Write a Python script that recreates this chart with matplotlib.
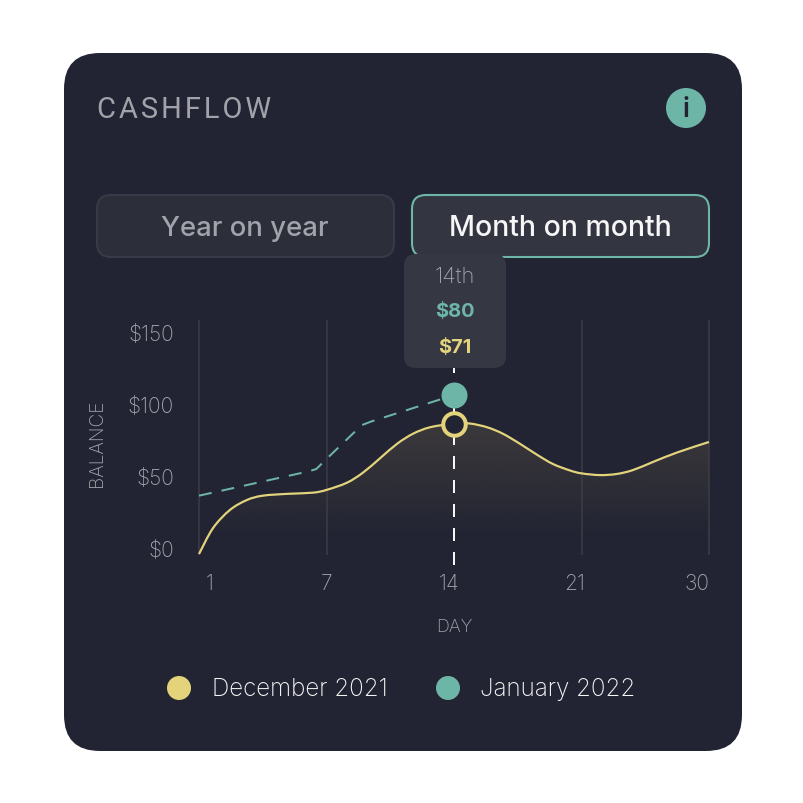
import matplotlib
matplotlib.use("Agg")
import matplotlib.pyplot as plt
import numpy as np
from matplotlib.patches import Circle, FancyBboxPatch, PathPatch
from matplotlib.path import Path
from matplotlib.transforms import ScaledTranslation

plt.rcParams["font.family"] = ["Inter", "DejaVu Sans"]

# x is the slot on the chart: the five day ticks are evenly spaced
day_labels = ["1", "7", "14", "21", "30"]
day_slots = [0, 1, 2, 3, 4]
balance_ticks = [0, 50, 100, 150]
balance_labels = ["$0", "$50", "$100", "$150"]

dec_slots = [0, 0.11, 0.243, 0.376, 0.5, 0.7, 0.894, 1.0, 1.16,
             1.286, 1.42, 1.553, 1.678, 1.812, 2.0, 2.125, 2.26, 2.384,
             2.518, 2.65, 2.776, 2.91, 3.0, 3.145, 3.278, 3.404, 3.56, 3.75, 4.0]
dec_values = [0, 18, 30.6, 37.5, 40.5, 41.8, 42.6, 44.5, 49.5,
              56.5, 66.5, 76.5, 83.5, 88, 90.6, 90.6, 88, 83.5,
              76.5, 69, 62.5, 58, 56, 54.8, 55.6, 58.3, 63.9, 70.5, 77.8]
jan_slots = [0, 0.86, 0.92, 1.0, 1.22, 1.28, 1.35, 2.0]
jan_values = [40.5, 57.4, 59, 66, 84.7, 89.6, 92, 110.4]

hover_slot = 2.0
hover_dec = 90.6
hover_jan = 110.4
tooltip_rows = ["14th", "$80", "$71"]
legend_names = ["December 2021", "January 2022"]

BG = "#222433"
TEAL = "#6db5a7"
YELLOW = "#e3d47c"
GREY = "#a2a3aa"
WHITE = "#f6f6f6"
GRID = "#353641"

W = 804
PX = 72 / 100  # points per pixel at dpi 100

fig = plt.figure(figsize=(8.04, 8.04), dpi=100, facecolor="white")


def box(ax, x0, y0, x1, y1, r, face, edge=None, lw=0):
    ax.add_patch(FancyBboxPatch((x0 + r, y0 + r), x1 - x0 - 2 * r, y1 - y0 - 2 * r,
                                boxstyle="round,pad=%d,rounding_size=%d" % (r, r),
                                fc=face, ec=edge or face, lw=lw))


def smooth(xs, ys):
    # catmull-rom through the read points, as bezier segments
    pts = np.column_stack([xs, ys])
    ext = np.vstack([pts[0], pts, pts[-1]])
    verts = [pts[0]]
    for i in range(1, len(ext) - 2):
        verts.append(ext[i] + (ext[i + 1] - ext[i - 1]) / 6)
        verts.append(ext[i + 1] - (ext[i + 2] - ext[i]) / 6)
        verts.append(ext[i + 1])
    codes = [Path.MOVETO] + [Path.CURVE4] * (len(verts) - 1)
    return verts, codes


# card, buttons, tooltip, legend all sit on a full-figure pixel canvas
card = fig.add_axes([0, 0, 1, 1], zorder=0)
card.set_xlim(0, W)
card.set_ylim(W - 1, -1)
card.axis("off")

box(card, 64, 53, 742, 751, 36, BG)
card.text(97, 109, "\u200a".join("CASHFLOW"), color=GREY, fontsize=29 * PX,
          family=["Roboto", "DejaVu Sans"], ha="left", va="center")
card.add_patch(Circle((686, 108), 20, fc=TEAL, ec="none"))
card.text(686, 109, "i", color=BG, fontsize=26 * PX, fontweight="semibold", ha="center", va="center")

box(card, 97, 195, 394, 257, 14, "#2c2e3a", "#383a47", 1.5)
box(card, 412, 195, 709, 257, 14, "#333541", TEAL, 1.5)
card.text(245, 228, "Year on year", color=GREY, fontsize=27.5 * PX, fontweight="medium",
          ha="center", va="center")
card.text(560, 228, "Month on month", color=WHITE, fontsize=28.5 * PX, fontweight="medium",
          ha="center", va="center")

box(card, 404, 254, 506, 368, 12, "#353743")
card.text(455, 276, tooltip_rows[0], color=GREY, fontsize=22 * PX, fontweight="light",
          ha="center", va="center")
card.text(455, 311, tooltip_rows[1], color=TEAL, fontsize=20 * PX, fontweight="bold",
          ha="center", va="center")
card.text(455, 347, tooltip_rows[2], color=YELLOW, fontsize=20 * PX, fontweight="bold",
          ha="center", va="center")

for cx, tx, name, col in zip([179, 448], [212, 480], legend_names, [YELLOW, TEAL]):
    card.add_patch(Circle((cx, 688), 12, fc=col, ec="none"))
    card.text(tx, 689, name, color=WHITE, fontsize=24.2 * PX, fontweight="light",
              ha="left", va="center")

# chart: y scale is 72 px per $50, zero on the axes bottom
left, right, top, bottom = 199, 709, 322, 555
ax = fig.add_axes([left / W, 1 - bottom / W, (right - left) / W, (bottom - top) / W], zorder=1)
ax.patch.set_alpha(0)
ymax = (bottom - top) / 1.44
for s in ax.spines.values():
    s.set_visible(False)

for slot in day_slots:
    if slot != hover_slot:
        ax.plot([slot, slot], [0, ymax], color=GRID, lw=1.5, zorder=1, clip_on=False)

# area under the december line fades out downward
grad = np.zeros((256, 2, 4))
grad[..., :3] = matplotlib.colors.to_rgb("#48433f")
grad[..., 3] = np.linspace(0, 0.72, 256)[:, None]
im = ax.imshow(grad, extent=[0, 4, 12, 95], origin="lower", aspect="auto", zorder=2)
im2 = ax.imshow(grad[:1], extent=[0, 4, 0, 12], origin="lower", aspect="auto", zorder=2)
dec_verts, dec_codes = smooth(dec_slots, dec_values)
area = Path(dec_verts + [(4, 0), (0, 0), (0, 0)],
            dec_codes + [Path.LINETO, Path.LINETO, Path.CLOSEPOLY])
clip = PathPatch(area, transform=ax.transData, fc="none", ec="none")
ax.add_patch(clip)
im.set_clip_path(clip)
im2.set_clip_path(clip)

ax.plot(jan_slots, jan_values, color=TEAL, lw=2 * PX, dashes=(6.5, 5), zorder=3,
        dash_joinstyle="round", clip_on=False)
ax.add_patch(PathPatch(Path(dec_verts, dec_codes), fc="none", ec=YELLOW, lw=2.2 * PX, zorder=4,
                       clip_on=False))

# hover line runs from under the tooltip to just below the axis
ax.plot([hover_slot, hover_slot], [-7.5, 129], color=WHITE, lw=2 * PX, dashes=(6.5, 5.5),
        zorder=5, clip_on=False)
ax.plot([hover_slot], [hover_jan], "o", ms=26 * PX, mfc=TEAL, mec=TEAL, mew=0, zorder=6)
ax.plot([hover_slot], [hover_dec], "o", ms=22.5 * PX, mfc=BG, mec=YELLOW, mew=4 * PX, zorder=6)

ax.set_xlim(0, 4)
ax.set_ylim(0, ymax)
ax.set_xticks(day_slots, day_labels)
ax.set_yticks(balance_ticks, balance_labels)
ax.tick_params(axis="both", length=0, labelcolor=GREY)
ax.tick_params(axis="x", pad=19 * PX, labelsize=21 * PX)
ax.tick_params(axis="y", pad=25 * PX, labelsize=21 * PX)

# tick labels sit off their ticks in the reference
x_shift = [11, 0, -5, -6.5, -12]
for lab, dx in zip(ax.get_xticklabels(), x_shift):
    lab.set_fontweight("light")
    lab.set_transform(lab.get_transform() + ScaledTranslation(dx / 100, 0, fig.dpi_scale_trans))
for lab in ax.get_yticklabels():
    lab.set_fontweight("light")
    lab.set_transform(lab.get_transform() + ScaledTranslation(0, 6 / 100, fig.dpi_scale_trans))

ax.set_xlabel("DAY", color=GREY, fontsize=18 * PX, fontweight="light")
ax.xaxis.set_label_coords(0.5, -(627 - bottom) / (bottom - top), transform=ax.transAxes)
ax.xaxis.label.set_va("center")
ax.set_ylabel("BALANCE", color=GREY, fontsize=19 * PX, fontweight="light")
ax.yaxis.set_label_coords(-(left - 97) / (right - left), (bottom - 443) / (bottom - top))
ax.yaxis.label.set_va("center")

fig.savefig("out.png", dpi=100)
